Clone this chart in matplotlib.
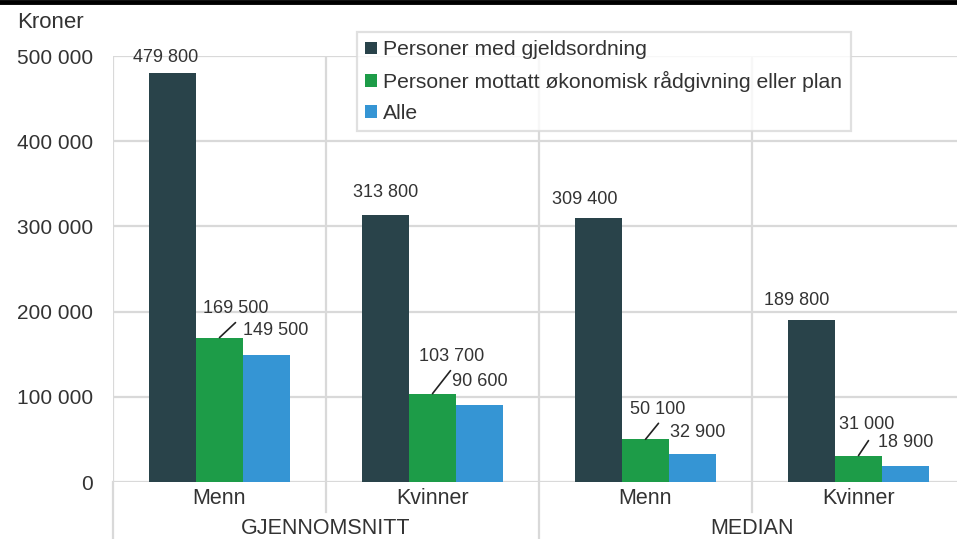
import matplotlib.pyplot as plt
import numpy as np
from matplotlib.lines import Line2D

plt.rcParams["font.family"] = ["Liberation Sans", "DejaVu Sans"]

# --- Data ---
categories = ["Menn", "Kvinner", "Menn", "Kvinner"]
groups = ["GJENNOMSNITT", "MEDIAN"]
series_names = [
    "Personer med gjeldsordning",
    "Personer mottatt økonomisk rådgivning eller plan",
    "Alle",
]
gjeldsordning = [479800, 313800, 309400, 189800]
raadgivning = [169500, 103700, 50100, 31000]
alle = [149500, 90600, 32900, 18900]
yticks = [0, 100000, 200000, 300000, 400000, 500000]

colors = ["#29434a", "#1d9c48", "#3595d4"]
text_color = "#333333"
grid_color = "#d9d9d9"

# label offsets in pixels (dx, dy of text centre from bar top centre)
dark_off = [(-7, 16), (0, 22), (-13, 19), (-15, 20)]
green_off = [(16, 29), (19, 37), (12, 30), (8, 31)]
green_line = [(16, 15), (18, 23), (13, 16), (10, 15)]
blue_off = [(9, 24), (0, 23), (5, 21), (0, 23)]

W, H = 957, 539
fig = plt.figure(figsize=(W / 100, H / 100), dpi=100)
ax_left, ax_bottom, ax_top = 113, 482, 56
ax = fig.add_axes([ax_left / W, (H - ax_bottom) / H, 1 - ax_left / W, (ax_bottom - ax_top) / H])

x = np.arange(len(categories))
bw = 0.222
series = [gjeldsordning, raadgivning, alle]
for k, (vals, col, name) in enumerate(zip(series, colors, series_names)):
    ax.bar(x + (k - 1) * bw, vals, bw, color=col, label=name, zorder=3)

ax.set_xlim(-0.5, -0.5 + (W - ax_left) / 213.0)
ax.set_ylim(0, 500000)
ax.set_yticks(yticks)
ax.set_yticklabels([f"{v:,}".replace(",", " ") for v in yticks])
ax.tick_params(axis="y", length=0, pad=14.5, labelsize=15, labelcolor=text_color)
ax.set_xticks([])
for s in ax.spines.values():
    s.set_visible(False)

# grid
for v in yticks:
    ax.axhline(v, color=grid_color, lw=1.6, zorder=1)
for b in [-0.5, 0.5, 1.5, 2.5, 3.5]:
    ax.axvline(b, color=grid_color, lw=1.6, zorder=1)

# separators below axis
axh = ax_bottom - ax_top
trans = ax.get_xaxis_transform()
for b, depth in [(-0.5, 57), (0.5, 30), (1.5, 57), (2.5, 30)]:
    ax.plot([b, b], [0, -depth / axh], color=grid_color, lw=1.6, transform=trans, clip_on=False)

for i, c in enumerate(categories):
    ax.text(i, -16 / axh, c, transform=trans, ha="center", va="center", fontsize=15.5, color=text_color)
for j, g in enumerate(groups):
    ax.text(0.5 + 2 * j, -46 / axh, g, transform=trans, ha="center", va="center", fontsize=15.5, color=text_color)


def fmt(v):
    return f"{v:,}".replace(",", " ")


# value labels
for i in range(len(categories)):
    xd = x[i] - bw
    ax.annotate(fmt(gjeldsordning[i]), (xd, gjeldsordning[i]), xytext=dark_off[i],
                textcoords="offset pixels", ha="center", va="center", fontsize=13, color=text_color)
    xg = x[i]
    ax.annotate(fmt(raadgivning[i]), (xg, raadgivning[i]), xytext=green_off[i],
                textcoords="offset pixels", ha="center", va="center", fontsize=13, color=text_color)
    ax.annotate("", (xg, raadgivning[i]), xytext=green_line[i], textcoords="offset pixels",
                arrowprops=dict(arrowstyle="-", color="#222222", lw=1.2, shrinkA=0, shrinkB=0))
    xb = x[i] + bw
    ax.annotate(fmt(alle[i]), (xb, alle[i]), xytext=blue_off[i],
                textcoords="offset pixels", ha="center", va="center", fontsize=13, color=text_color)

fig.text(17 / W, 1 - 22 / H, "Kroner", fontsize=16, color=text_color, ha="left", va="center")

leg = ax.legend(loc="upper left", bbox_to_anchor=((357 - ax_left) / (W - ax_left), 1 + 24 / axh),
                fontsize=15.2, frameon=True, fancybox=False, edgecolor=grid_color,
                handlelength=0.55, handleheight=0.55, handletextpad=0.3, labelspacing=0.55,
                borderpad=0.4, borderaxespad=0, labelcolor=text_color)
leg.get_frame().set_linewidth(1.6)
leg.set_zorder(5)

# top black rule
fig.add_artist(Line2D([0, 1], [1 - 1.5 / H, 1 - 1.5 / H], color="black", lw=3.5, transform=fig.transFigure))

fig.savefig("out.png", dpi=100)
